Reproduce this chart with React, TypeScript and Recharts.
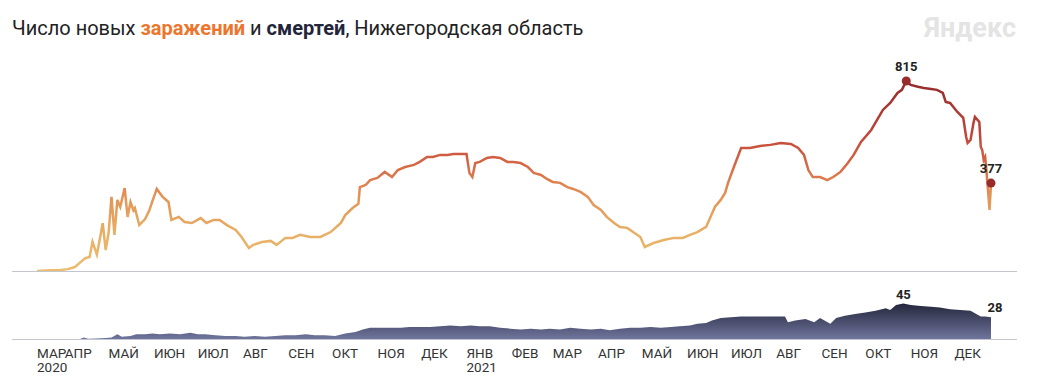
import React from 'react'
import {
  LineChart,
  Line,
  AreaChart,
  Area,
  XAxis,
  YAxis,
} from 'recharts'

// days are counted from 2020-03-13 (first day of the series)
const caseDays = [
  0, 9, 16, 21, 26, 29, 33, 36, 38, 41, 45, 47, 49, 51, 53, 55, 57, 60, 62, 64,
  66, 67, 70, 74, 77, 79, 82, 84, 86, 90, 92, 97, 101, 106, 112, 116, 121, 125, 130, 136,
  140, 145, 148, 154, 160, 164, 170, 175, 180, 187, 194, 201, 208, 211, 216, 220, 221, 225, 228, 233,
  238, 243, 247, 252, 258, 262, 267, 271, 276, 281, 285, 290, 294, 296, 298, 300, 303, 308, 312, 317,
  322, 326, 331, 336, 340, 345, 349, 353, 358, 363, 367, 372, 377, 381, 386, 390, 395, 399, 404, 408,
  413, 416, 422, 429, 436, 442, 447, 452, 458, 461, 464, 468, 471, 473, 477, 482, 488, 495, 502, 509,
  516, 521, 525, 528, 531, 536, 541, 545, 550, 555, 559, 564, 571, 575, 579, 584, 589, 592, 595, 598,
  603, 607, 612, 616, 620, 622, 625, 630, 634, 636, 637, 639, 641, 642, 645, 646, 647, 648, 649, 650,
  652, 653,
]
const cases = [
  0, 3, 4, 8, 17, 34, 55, 60, 125, 70, 205, 90, 163, 318, 155, 305, 275, 356, 232, 296,
  260, 270, 197, 223, 262, 300, 352, 335, 318, 296, 219, 232, 210, 206, 227, 206, 219, 219, 197, 176,
  146, 99, 112, 124, 129, 112, 142, 142, 155, 146, 146, 167, 206, 240, 270, 288, 360, 369, 390, 399,
  425, 403, 433, 446, 455, 468, 489, 489, 498, 498, 502, 502, 502, 420, 403, 463, 468, 485, 489, 485,
  468, 468, 463, 446, 421, 412, 395, 382, 378, 360, 352, 339, 318, 283, 262, 232, 206, 189, 185, 167,
  146, 103, 120, 133, 142, 142, 155, 167, 189, 232, 275, 305, 335, 378, 446, 528, 528, 536, 541, 549,
  545, 528, 498, 433, 403, 403, 390, 403, 425, 463, 498, 554, 605, 648, 691, 721, 764, 777, 815, 798,
  790, 785, 781, 777, 764, 725, 721, 682, 657, 575, 549, 562, 635, 661, 639, 532, 519, 476, 489, 421,
  262, 377,
]

const deathDays = [
  0, 16, 26, 29, 32, 35, 40, 47, 51, 55, 58, 64, 68, 74, 79, 84, 91, 98, 105, 110,
  115, 122, 129, 136, 142, 149, 156, 163, 170, 177, 184, 190, 197, 204, 211, 218, 223, 228, 235, 242,
  249, 255, 262, 269, 276, 283, 290, 297, 303, 310, 317, 324, 331, 338, 345, 351, 358, 365, 372, 379,
  386, 392, 399, 406, 413, 420, 427, 434, 440, 447, 452, 458, 462, 468, 475, 482, 488, 495, 502, 512,
  514, 519, 526, 532, 536, 543, 547, 553, 560, 567, 574, 581, 584, 588, 593, 598, 605, 612, 618, 625,
  632, 639, 642, 646, 649, 653,
]
const deaths = [
  0, 0, 0.5, 1, 3, 1.5, 2, 2.5, 3, 7, 4, 5, 7, 7, 8, 7, 8, 7, 9, 7,
  7, 6, 5, 5, 4, 5, 4, 5, 6, 6, 7, 6, 6, 5, 8, 10, 13, 15, 15, 15,
  15, 16, 16, 16, 17, 18, 17, 18, 17, 17, 15, 14, 13, 14, 13, 14, 13, 15, 14, 13,
  14, 12, 14, 15, 15, 16, 15, 16, 17, 18, 20, 21, 24, 27, 28, 29, 29, 29, 29, 29,
  22, 24, 26, 22, 27, 20, 27, 30, 32, 34, 36, 39, 37, 43, 45, 43, 42, 41, 40, 38,
  37, 36, 33, 29, 29, 28,
]

const monthDays = [0, 19, 49, 80, 110, 141, 172, 202, 233, 263, 294, 325, 353, 384, 414, 445, 475, 506, 537, 567, 598, 628]
const monthLabels = [
  'МАР', 'АПР', 'МАЙ', 'ИЮН', 'ИЮЛ', 'АВГ', 'СЕН', 'ОКТ', 'НОЯ', 'ДЕК',
  'ЯНВ', 'ФЕВ', 'МАР', 'АПР', 'МАЙ', 'ИЮН', 'ИЮЛ', 'АВГ', 'СЕН', 'ОКТ', 'НОЯ', 'ДЕК',
]
const yearLabels: Record<number, string> = { 0: '2020', 294: '2021' }

const caseData = caseDays.map((day, i) => ({ day, value: cases[i] }))
const deathData = deathDays.map((day, i) => ({ day, value: deaths[i] }))

const FONT = 'Roboto, "Noto Sans", sans-serif'
const W = 1037
const LAST_DAY = 653
const margins = { left: 37, right: 46 }

function markIndices(values: number[]) {
  let max = 0
  values.forEach((v, i) => {
    if (v > values[max]) max = i
  })
  return [max, values.length - 1]
}

const caseMarks = markIndices(cases)
const deathMarks = markIndices(deaths)

function CaseDot(props: any) {
  const { cx, cy, index } = props
  if (!caseMarks.includes(index)) return <g key={`c${index}`} />
  return (
    <g key={`c${index}`}>
      <circle cx={cx} cy={cy} r={4.5} fill="#982b2b" />
      <text x={cx} y={cy - 10} textAnchor="middle" fontSize={13} fontWeight={700} fill="#222" fontFamily={FONT}>
        {cases[index]}
      </text>
    </g>
  )
}

function DeathDot(props: any) {
  const { cx, cy, index } = props
  if (!deathMarks.includes(index)) return <g key={`d${index}`} />
  const last = index === deaths.length - 1
  return (
    <g key={`d${index}`}>
      <text x={cx + (last ? 4 : 0)} y={cy - 5} textAnchor="middle" fontSize={13} fontWeight={700} fill="#222" fontFamily={FONT}>
        {deaths[index]}
      </text>
    </g>
  )
}

function MonthTick(props: any) {
  const { x, y, payload } = props
  const i = monthDays.indexOf(payload.value)
  const year = yearLabels[payload.value]
  return (
    <text x={x} y={y} textAnchor="start" fontSize={13.5} fill="#333" fontFamily={FONT}>
      <tspan x={x} dy={10}>{monthLabels[i]}</tspan>
      {year && <tspan x={x} dy={14}>{year}</tspan>}
    </text>
  )
}

const baseline = (top: number) => (
  <div style={{ position: 'absolute', left: 12, top, width: 1005, height: 1, background: '#c3c6cf' }} />
)

export default function App() {
  return (
    <div style={{ position: 'absolute', left: 0, top: 0, width: W, height: 379, background: '#fff', fontFamily: FONT }}>
      <div style={{ position: 'absolute', left: 12, top: 16, fontSize: 20, color: '#222', whiteSpace: 'nowrap' }}>
        Число новых <b style={{ color: '#ec762d', fontWeight: 700 }}>заражений</b> и{' '}
        <b style={{ color: '#23253a', fontWeight: 700 }}>смертей</b>, Нижегородская область
      </div>
      <div style={{ position: 'absolute', left: 924, top: 12, fontSize: 27, fontWeight: 700, color: '#e4e4e4' }}>
        Яндекс
      </div>

      <div style={{ position: 'absolute', left: 0, top: 0 }}>
        <LineChart width={W} height={272} data={caseData} margin={{ top: 81, right: margins.right, bottom: 1, left: margins.left }}>
          <defs>
            <linearGradient id="caseGrad" x1="0" y1="0" x2="0" y2="1">
              <stop offset="0%" stopColor="#952a2b" />
              <stop offset="30%" stopColor="#c2493a" />
              <stop offset="45%" stopColor="#d76a46" />
              <stop offset="60%" stopColor="#e29255" />
              <stop offset="80%" stopColor="#e8af65" />
              <stop offset="100%" stopColor="#eabd70" />
            </linearGradient>
          </defs>
          <XAxis dataKey="day" type="number" domain={[0, LAST_DAY]} hide />
          <YAxis domain={[0, 815]} hide />
          <Line
            type="linear"
            dataKey="value"
            stroke="url(#caseGrad)"
            strokeWidth={2.5}
            dot={CaseDot}
            activeDot={false}
            isAnimationActive={false}
          />
        </LineChart>
      </div>
      {baseline(271)}

      <div style={{ position: 'absolute', left: 0, top: 280 }}>
        <AreaChart width={W} height={100} data={deathData} margin={{ top: 23.5, right: margins.right, bottom: 0, left: margins.left }}>
          <defs>
            <linearGradient id="deathGrad" x1="0" y1="0" x2="0" y2="1">
              <stop offset="0%" stopColor="#23263b" />
              <stop offset="100%" stopColor="#71779f" />
            </linearGradient>
          </defs>
          <XAxis
            dataKey="day"
            type="number"
            domain={[0, LAST_DAY]}
            ticks={monthDays}
            tick={MonthTick}
            axisLine={false}
            tickLine={false}
            height={40}
            interval={0}
          />
          <YAxis domain={[0, 45]} hide />
          <Area
            type="linear"
            dataKey="value"
            stroke="none"
            fill="url(#deathGrad)"
            fillOpacity={1}
            dot={DeathDot}
            activeDot={false}
            isAnimationActive={false}
          />
        </AreaChart>
      </div>
      {baseline(339)}
    </div>
  )
}
